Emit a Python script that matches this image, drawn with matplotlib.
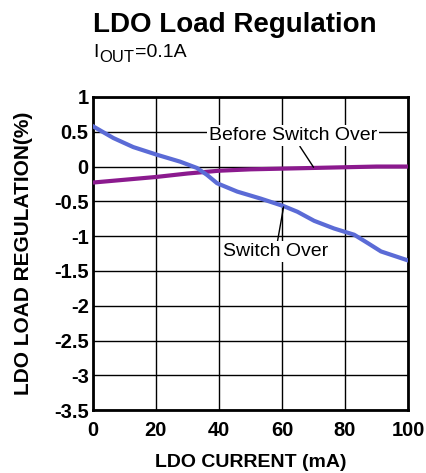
import matplotlib
matplotlib.use('Agg')
import matplotlib.pyplot as plt
from matplotlib.transforms import offset_copy

plt.rcParams['font.family'] = ['Liberation Sans', 'DejaVu Sans']

# Switch Over curve (blue)
switch_x = [0, 6.5, 12.8, 20.3, 27.7, 33, 36.2, 39.4, 45.8, 53.2, 60.6, 64.9, 70.2, 76.5, 82.9, 87.2, 91.4, 96.7, 100]
switch_y = [0.58, 0.41, 0.28, 0.17, 0.07, -0.02, -0.12, -0.24, -0.36, -0.46, -0.57, -0.65, -0.78, -0.89, -0.98, -1.10, -1.22, -1.30, -1.35]

# Before Switch Over curve (purple)
before_x = [0, 10, 20, 30, 40, 50, 60, 70, 80, 90, 100]
before_y = [-0.23, -0.19, -0.15, -0.10, -0.06, -0.04, -0.03, -0.02, -0.01, 0.0, 0.0]

xticks = [0, 20, 40, 60, 80, 100]
yticks = [1, 0.5, 0, -0.5, -1, -1.5, -2, -2.5, -3, -3.5]
ytick_labels = ['1', '0.5', '0', '-0.5', '-1', '-1.5', '-2', '-2.5', '-3', '-3.5']

fig = plt.figure(figsize=(4.26, 4.73), dpi=100)
ax = fig.add_axes([0.218, 0.133, 0.740, 0.662])

ax.plot(before_x, before_y, color='#8b1a8e', lw=3, zorder=3)
ax.plot(switch_x, switch_y, color='#5b6bd6', lw=3, zorder=3)

ax.set_xlim(0, 100)
ax.set_ylim(-3.5, 1)
ax.set_xticks(xticks)
ax.set_yticks(yticks)
ax.set_yticklabels(ytick_labels)
ax.grid(True, color='black', lw=1)
ax.set_axisbelow(True)
ax.tick_params(length=0, labelsize=14.5, pad=3)
ax.tick_params(axis='x', pad=8)
for lab in ax.get_xticklabels() + ax.get_yticklabels():
    lab.set_fontweight('bold')
for s in ax.spines.values():
    s.set_linewidth(2)

ax.set_xlabel('LDO CURRENT (mA)', fontsize=14, fontweight='bold', labelpad=10)
ax.set_ylabel('LDO LOAD REGULATION(%)', fontsize=15, fontweight='bold', labelpad=15)

ax.annotate('Before Switch Over', xy=(70, -0.01), xytext=(63.5, 0.44),
            fontsize=14, ha='center', va='center', zorder=4,
            bbox=dict(boxstyle='square,pad=0.1', fc='white', ec='none'),
            arrowprops=dict(arrowstyle='-', color='black', lw=1, shrinkA=0, shrinkB=0))
ax.annotate('Switch Over', xy=(60.5, -0.58), xytext=(58, -1.22),
            fontsize=14, ha='center', va='center', zorder=4,
            bbox=dict(boxstyle='square,pad=0.1', fc='white', ec='none'),
            arrowprops=dict(arrowstyle='-', color='black', lw=1, shrinkA=0, shrinkB=0))

fig.text(0.218, 0.932, 'LDO Load Regulation', fontsize=20, fontweight='bold', ha='left', va='baseline')

# subtitle I_OUT=0.1A built from pieces so the subscript stays large
renderer = fig.canvas.get_renderer()
t1 = fig.text(0.220, 0.879, 'I', fontsize=14, ha='left', va='baseline')
w1 = t1.get_window_extent(renderer).width
t2 = fig.text(0.220, 0.879, 'OUT', fontsize=12, ha='left', va='baseline',
              transform=offset_copy(fig.transFigure, fig=fig, x=w1 + 0.5, y=-5, units='dots'))
w2 = t2.get_window_extent(renderer).width
fig.text(0.220, 0.879, '=0.1A', fontsize=14, ha='left', va='baseline',
         transform=offset_copy(fig.transFigure, fig=fig, x=w1 + w2 + 1, y=0, units='dots'))

fig.savefig('out.png', dpi=100)
